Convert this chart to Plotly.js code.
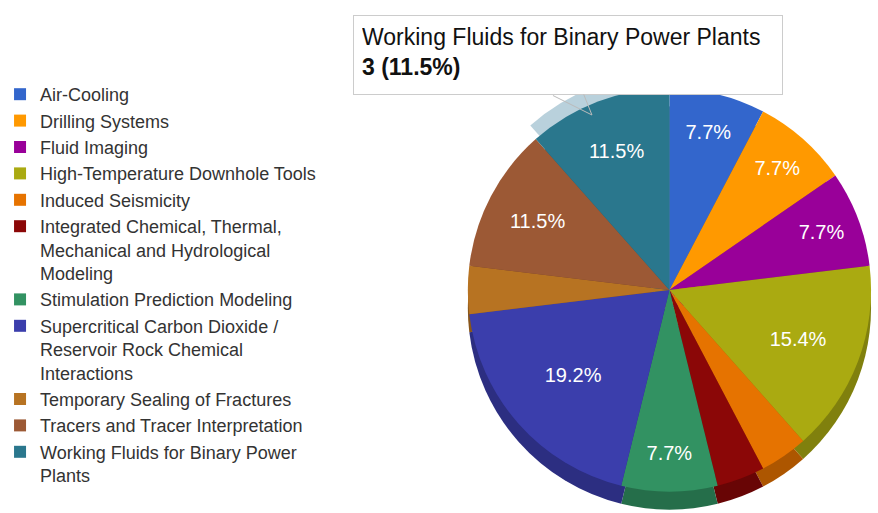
<!DOCTYPE html>
<html>
<head>
<meta charset="utf-8">
<script src="https://cdn.plot.ly/plotly-3.0.1.min.js"></script>
<style>html,body{margin:0;padding:0;background:#fff;}#chart{width:878px;height:513px;}</style>
</head>
<body>
<div id="chart"></div>
<script>
const categories = [
  "Air-Cooling",
  "Drilling Systems",
  "Fluid Imaging",
  "High-Temperature Downhole Tools",
  "Induced Seismicity",
  "Integrated Chemical, Thermal, Mechanical and Hydrological Modeling",
  "Stimulation Prediction Modeling",
  "Supercritical Carbon Dioxide / Reservoir Rock Chemical Interactions",
  "Temporary Sealing of Fractures",
  "Tracers and Tracer Interpretation",
  "Working Fluids for Binary Power Plants"
];
const legendLabels = [
  "Air-Cooling",
  "Drilling Systems",
  "Fluid Imaging",
  "High-Temperature Downhole Tools",
  "Induced Seismicity",
  "Integrated Chemical, Thermal,<br>Mechanical and Hydrological<br>Modeling",
  "Stimulation Prediction Modeling",
  "Supercritical Carbon Dioxide /<br>Reservoir Rock Chemical<br>Interactions",
  "Temporary Sealing of Fractures",
  "Tracers and Tracer Interpretation",
  "Working Fluids for Binary Power<br>Plants"
];
const values = [2, 2, 2, 4, 1, 1, 2, 5, 1, 3, 3];
const highlighted = 10;

const colors = ["#3366cc","#ff9900","#990099","#aaaa11","#e67300","#8b0707","#329262","#3b3eac","#b77322","#9c5935","#2a778d"];
const darkColors = ["#264d99","#bf7300","#730073","#80800d","#ad5600","#680505","#256e4a","#2c2e81","#89561a","#754328","#205a6a"];

const total = values.reduce((a,b)=>a+b,0);
const pctText = values.map(v => (v/total >= 0.05) ? (100*v/total).toFixed(1) + "%" : "");

const W = 878, H = 513;
function dom(cx, cy, r){
  return {x:[(cx-r)/W, (cx+r)/W], y:[1-(cy+r)/H, 1-(cy-r)/H]};
}

const common = {
  type: "pie", labels: legendLabels, values: values, sort: false,
  direction: "clockwise", rotation: 0, hoverinfo: "none"
};

const shadow = Object.assign({}, common, {
  domain: dom(668, 308, 203),
  marker: {colors: darkColors, line: {width: 0}},
  textinfo: "none", showlegend: false
});
const hl = Object.assign({}, common, {
  domain: dom(668, 282, 211),
  marker: {colors: colors.map((c,i)=> i===highlighted ? "#b9d1dc" : "rgba(0,0,0,0)"), line: {width: 0}},
  textinfo: "none", showlegend: false
});
const main = Object.assign({}, common, {
  domain: dom(668, 290, 203),
  marker: {colors: colors, line: {width: 0}},
  text: pctText, textinfo: "text", textposition: "inside",
  insidetextorientation: "horizontal",
  textfont: {family: "Liberation Sans, Arial, sans-serif", size: 20, color: "#ffffff"},
  showlegend: true
});

const hv = values[highlighted];
const tipText = categories[highlighted] + "<br><b>" + hv + " (" + (100*hv/total).toFixed(1) + "%)</b>";

const tipX = 590/W, tipY = 1 - 115/H;

const layout = {
  width: W, height: H,
  margin: {l:0, r:0, t:0, b:0},
  paper_bgcolor: "#ffffff",
  font: {family: "Liberation Sans, Arial, sans-serif", color: "#222222"},
  showlegend: true,
  legend: {
    x: -6/W, xanchor: "left", y: 1 - 76/H, yanchor: "top",
    font: {size: 18, color: "#333333"},
    valign: "top", itemwidth: 30, traceorder: "normal"
  },
  annotations: [{
    xref: "paper", yref: "paper",
    x: tipX, y: tipY,
    ax: -42, ay: -21,
    text: " ", showarrow: true, arrowhead: 0, arrowwidth: 1, arrowcolor: "#bbbbbb",
    standoff: 0, startstandoff: 0
  }, {
    xref: "paper", yref: "paper",
    x: tipX, y: tipY,
    ax: -24, ay: -60,
    text: tipText, showarrow: true, arrowhead: 0, arrowwidth: 1, arrowcolor: "#bbbbbb",
    align: "left", valign: "top", width: 412, height: 62,
    bgcolor: "#ffffff", bordercolor: "#cccccc", borderwidth: 1, borderpad: 8,
    font: {size: 23, color: "#111111"}
  }]
};

Plotly.newPlot("chart", [shadow, hl, main], layout, {staticPlot: true});
</script>
</body>
</html>
